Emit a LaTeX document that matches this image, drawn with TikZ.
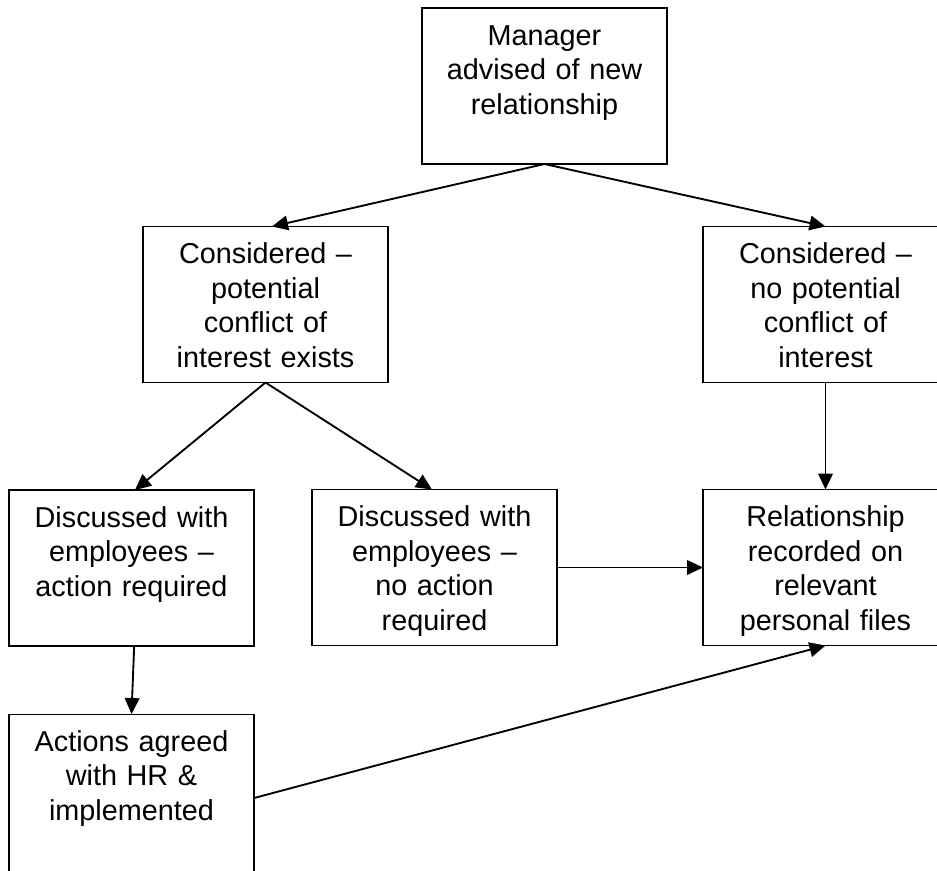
\documentclass[tikz,border=0pt]{standalone}
\usepackage{fontspec}
\setmainfont{Liberation Sans}
\usetikzlibrary{arrows.meta}
\tikzset{
  box/.style={draw, line width=0.8pt, minimum width=183.75pt, minimum height=117pt, inner sep=0pt, outer sep=0pt},
  txt/.style={anchor=north, align=center, inner sep=0pt, font=\fontsize{21.6}{25.9}\selectfont, text width=182pt},
  arr/.style={-{Triangle[length=12pt,width=11pt]}, line width=1.4pt}
}
\begin{document}
\begin{tikzpicture}[x=0.75pt, y=-0.75pt]
\useasboundingbox (0,0) rectangle (937,870);
\clip (0,0) rectangle (937,870);
\fill[white] (0,0) rectangle (937,870);
% boxes
\node[box] (b1) at (544.5,86) {};
\node[box] (b2) at (265.5,304.5) {};
\node[box] (b3) at (825.5,304.5) {};
\node[box] (b4) at (131.5,568) {};
\node[box] (b5) at (434.5,567.5) {};
\node[box] (b6) at (825.5,567.5) {};
\node[box, minimum height=124pt] (b7) at (131.5,796.7) {};
% texts
\node[txt] (t1) at ([yshift=-9.6pt]b1.north) {\strut Manager\\advised of new\\relationship};
\node[txt] (t2) at ([yshift=-9.6pt]b2.north) {\strut Considered –\\potential\\conflict of\\interest exists};
\node[txt] (t3) at ([yshift=-9.6pt]b3.north) {\strut Considered –\\no potential\\conflict of\\interest};
\node[txt] (t4) at ([yshift=-9.6pt]b4.north) {\strut Discussed with\\employees –\\action required};
\node[txt] (t5) at ([yshift=-9.6pt]b5.north) {\strut Discussed with\\employees –\\no action\\required};
\node[txt] (t6) at ([yshift=-9.6pt]b6.north) {\strut Relationship\\recorded on\\relevant\\personal files};
\node[txt] (t7) at ([yshift=-9.6pt]b7.north) {\strut Actions agreed\\with HR \&\\implemented};
% connectors
\draw[arr] (b1.south) -- ([xshift=4.9pt]b2.north);
\draw[arr] (b1.south) -- (b3.north);
\draw[arr] (b2.south) -- ([xshift=2.6pt]b4.north);
\draw[arr] (b2.south) -- ([xshift=-1.9pt]b5.north);
\draw[arr] (b3.south) -- (b6.north);
\draw[arr] (b5.east) -- (b6.west);
\draw[arr] ([xshift=2pt]b4.south) -- (b7.north);
\draw[arr] ([yshift=-1pt]b7.east) -- (b6.south);
\end{tikzpicture}
\end{document}
